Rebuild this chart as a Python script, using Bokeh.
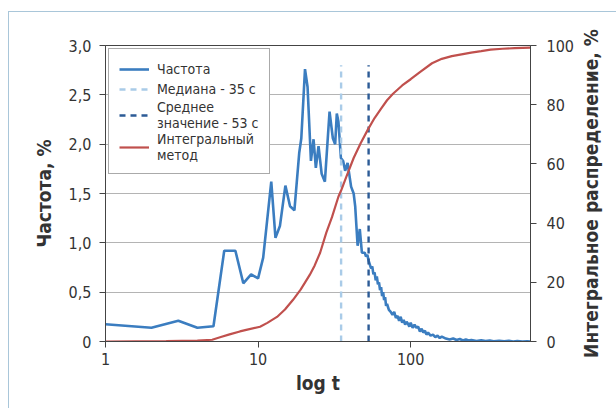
from bokeh.plotting import figure
from bokeh.layouts import row
from bokeh.models import (Range1d, LinearAxis, FixedTicker, CustomJSTickFormatter,
                          Legend, LegendItem)
from bokeh.embed import file_html
from bokeh.resources import INLINE

# ---- data ----
freq_t = [1, 2, 3, 4, 5.1, 6, 7.1, 8, 9, 10, 10.8, 12.2, 13, 13.9, 15.1, 16.2, 17.3,
          18.6, 19.2, 20.3, 21.1, 22.2, 23.1, 23.9, 24.9, 26.1, 27.4, 29.4, 30.9, 32,
          32.8, 33.6, 34.9, 36.1, 37.2, 38.6, 40.7, 42.3, 43.3, 44.9, 46.4, 47.9,
          50, 51, 52, 53, 54, 55, 56, 57, 58, 59, 60, 61, 62, 63, 64, 65, 66, 67, 68, 69, 70,
          72, 74, 76, 78, 80, 82, 84, 86, 88, 90, 92, 94, 96, 98, 100,
          103, 106, 109, 112, 115, 118, 121, 124, 127, 130,
          135, 140, 145, 150, 155, 160, 165, 170,
          180, 190, 200, 210, 220, 230, 240, 250,
          270, 290, 310, 330, 350,
          380, 410, 440, 470, 500,
          540, 580, 610]
freq_pct = [0.175, 0.14, 0.21, 0.14, 0.155, 0.92, 0.92, 0.59, 0.68, 0.64, 0.85, 1.62, 1.05,
            1.17, 1.58, 1.37, 1.33, 1.91, 2.06, 2.76, 2.58, 1.83, 2.05, 1.76, 1.98, 1.70,
            1.62, 2.33, 2.06, 2.0, 2.31, 2.23, 1.86, 1.83, 1.73, 1.81, 1.57, 1.50, 1.37,
            0.97, 1.14, 0.90,
            0.90, 0.86, 0.88, 0.82, 0.78, 0.74, 0.76, 0.68, 0.70, 0.62, 0.66, 0.58, 0.60,
            0.52, 0.55, 0.46, 0.50, 0.42, 0.45, 0.36, 0.38,
            0.32, 0.30, 0.27, 0.30, 0.24, 0.26, 0.21, 0.25, 0.19, 0.22, 0.17, 0.20, 0.18,
            0.15, 0.19,
            0.14, 0.17, 0.14, 0.15, 0.10, 0.13, 0.09, 0.11, 0.07, 0.09,
            0.06, 0.07, 0.045, 0.06, 0.035, 0.05, 0.04, 0.03,
            0.02, 0.03, 0.015, 0.025, 0.01, 0.02, 0.01, 0.015,
            0.005, 0.012, 0.004, 0.01, 0.003,
            0.008, 0.002, 0.006, 0.0, 0.005,
            0.0, 0.003, 0.0]

cum_t = [1, 2.5, 4, 5, 5.7, 6.5, 7.6, 8.5, 10.3, 11.5, 13.3, 15, 16.9, 19, 21.8, 23.5,
         25.5, 28, 30.5, 33.6, 35, 37.8, 42.3, 47, 52.3, 58, 64, 70, 76.6, 88, 100, 115,
         138, 160, 186, 220, 249, 290, 334, 400, 480, 610]
cum_pct = [0, 0.1, 0.3, 0.6, 1.5, 2.4, 3.4, 4.0, 5.0, 6.3, 8.3, 10.8, 14, 17.5, 22.5, 25.7,
           30, 36.8, 42, 48.9, 51, 55.5, 62, 67, 71.5, 75.5, 78.7, 81.5, 83.7, 86.5, 88.6,
           91, 94, 95.5, 96.4, 97.1, 97.6, 98.1, 98.6, 98.9, 99.1, 99.3]

median_t = 35
mean_t = 53
marker_top = 2.8

x_ticks = [1, 10, 100]
y_ticks = [0, 0.5, 1.0, 1.5, 2.0, 2.5, 3.0]
y2_ticks = [0, 20, 40, 60, 80, 100]

label_freq = "Частота"
label_median = "Медиана - 35 с"
label_mean = "Среднее\nзначение - 53 с"
label_cum = "Интегральный\nметод"
ylabel_left = "Частота, %"
ylabel_right = "Интегральное распределение, %"
xlabel = "log t"

# ---- styling ----
FONT = "DejaVu Sans Condensed, Liberation Sans, sans-serif"
TXT = "#333333"
C_BLUE = "#3b7dc0"
C_MED = "#a9cbe8"
C_MEAN = "#2c5b96"
C_RED = "#c0504d"

p = figure(width=567, height=396, x_axis_type="log", x_range=Range1d(1, 610),
           y_range=Range1d(0, 3), output_backend="svg", toolbar_location=None,
           min_border_left=96, min_border_right=44, min_border_top=33, min_border_bottom=63)
p.extra_y_ranges = {"cum": Range1d(0, 100)}

p.outline_line_color = "#444444"
p.outline_line_width = 1
p.background_fill_color = "white"
p.border_fill_color = "white"

p.xgrid.visible = False
p.ygrid.ticker = FixedTicker(ticks=y_ticks)
p.ygrid.grid_line_color = "#b4b4b4"
p.ygrid.grid_line_width = 1.2

# x axis
xa = p.xaxis[0]
xa.ticker = FixedTicker(ticks=x_ticks, minor_ticks=[])
xa.formatter = CustomJSTickFormatter(code="return String(Math.round(tick));")
xa.axis_label = xlabel

# left axis
ya = p.yaxis[0]
ya.ticker = FixedTicker(ticks=y_ticks, minor_ticks=[])
ya.formatter = CustomJSTickFormatter(
    code="return tick == 0 ? '0' : tick.toFixed(1).replace('.', ',');")
ya.axis_label = ylabel_left

# right axis with ticks
ra = LinearAxis(y_range_name="cum", ticker=FixedTicker(ticks=y2_ticks, minor_ticks=[]))
p.add_layout(ra, "right")

for ax in (xa, ya, ra):
    ax.axis_line_color = "#444444"
    ax.major_tick_line_color = "#444444"
    ax.major_tick_in = 0
    ax.major_tick_out = 6
    ax.minor_tick_line_color = None
    ax.major_label_text_font = FONT
    ax.major_label_text_font_size = "16px"
    ax.major_label_text_color = TXT
    ax.axis_label_text_font = FONT
    ax.axis_label_text_font_size = "19px"
    ax.axis_label_text_font_style = "bold"
    ax.axis_label_text_color = TXT

xa.major_label_standoff = 5
ya.major_label_standoff = 8
ra.major_label_standoff = 10
xa.axis_label_standoff = 4
ya.axis_label_standoff = 11

# glyphs
r_freq = p.line(freq_t, freq_pct, line_color=C_BLUE, line_width=2.6)
r_med = p.line([median_t, median_t], [0, marker_top], line_color=C_MED, line_width=2.4,
               line_dash="6 5")
r_mean = p.line([mean_t, mean_t], [0, marker_top], line_color=C_MEAN, line_width=2.4,
                line_dash="6 5")
r_cum = p.line(cum_t, cum_pct, y_range_name="cum", line_color=C_RED, line_width=2.2)

legend = Legend(items=[LegendItem(label=label_freq, renderers=[r_freq]),
                       LegendItem(label=label_median, renderers=[r_med]),
                       LegendItem(label=label_mean, renderers=[r_mean]),
                       LegendItem(label=label_cum, renderers=[r_cum])],
                location="top_left")
legend.margin = 3
legend.padding = 10
legend.spacing = 0
legend.glyph_width = 30
legend.label_standoff = 8
legend.label_text_font = FONT
legend.label_text_font_size = "14px"
legend.label_text_color = TXT
legend.label_text_line_height = 1.0
legend.border_line_color = "#555555"
legend.border_line_width = 1
legend.background_fill_alpha = 1.0
p.add_layout(legend)

# narrow companion figure carrying the right-hand axis title (reads bottom-to-top)
p2 = figure(width=40, height=396, y_range=Range1d(0, 100), x_range=Range1d(0, 1),
            output_backend="svg", toolbar_location=None, x_axis_location=None,
            min_border_left=34, min_border_right=0, min_border_top=0, min_border_bottom=67)
p2.outline_line_color = None
p2.border_fill_color = "white"
p2.grid.visible = False
ay2 = p2.yaxis[0]
ay2.ticker = FixedTicker(ticks=[], minor_ticks=[])
ay2.axis_line_color = None
ay2.major_tick_line_color = None
ay2.minor_tick_line_color = None
ay2.major_label_text_color = None
ay2.axis_label = ylabel_right
ay2.axis_label_text_font = FONT
ay2.axis_label_text_font_size = "19px"
ay2.axis_label_text_font_style = "bold"
ay2.axis_label_text_color = TXT
ay2.axis_label_standoff = 9

layout = row(p, p2, spacing=0,
             styles={"margin-top": "11px", "margin-left": "8px",
                     "border-top": "1px solid #a9c6d9", "border-left": "1px solid #a9c6d9"})

open("out.html", "w").write(file_html(layout, INLINE))
